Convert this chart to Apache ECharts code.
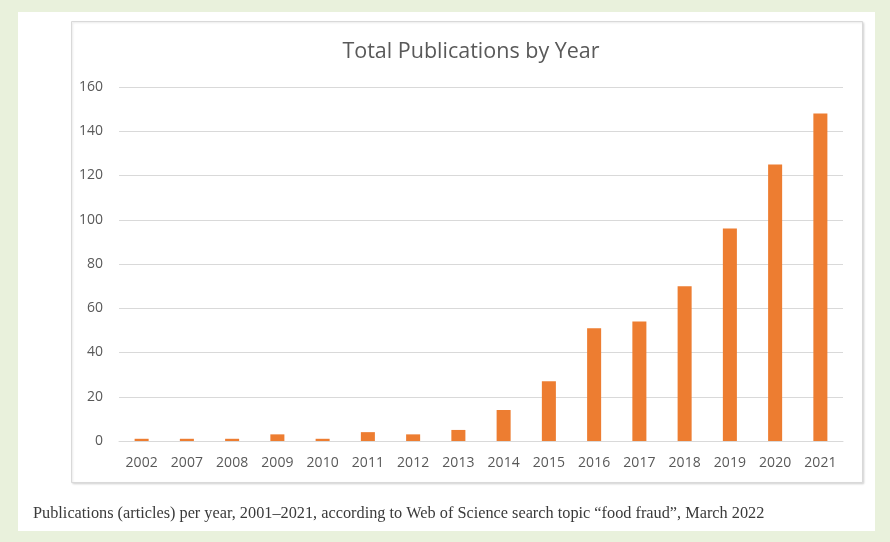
<!DOCTYPE html>
<html>
<head>
<meta charset="utf-8">
<script src="https://cdn.jsdelivr.net/npm/echarts@6/dist/echarts.min.js"></script>
<style>
html,body{margin:0;padding:0;background:#e9f1dc;}
#c{width:890px;height:542px;}
</style>
</head>
<body>
<div id="c"></div>
<script>
var years = ['2002','2007','2008','2009','2010','2011','2012','2013','2014','2015','2016','2017','2018','2019','2020','2021'];
var publications = [1,1,1,3,1,4,3,5,14,27,51,54,70,96,125,148];
var yTicks = [0,20,40,60,80,100,120,140,160];
var titleText = 'Total Publications by Year';
var captionText = 'Publications (articles) per year, 2001\u20132021, according to Web of Science search topic \u201cfood fraud\u201d, March 2022';

var chart = echarts.init(document.getElementById('c'), null, {renderer:'canvas'});
chart.setOption({
  backgroundColor: '#e9f1dc',
  animation: false,
  graphic: [
    {type:'rect', z:-10, shape:{x:18,y:12,width:857,height:519}, style:{fill:'#ffffff'}},
    {type:'rect', z:-9, shape:{x:71.5,y:21.5,width:791,height:461}, style:{fill:'#ffffff', stroke:'#d9d9d9', lineWidth:1, shadowBlur:2, shadowOffsetX:1, shadowOffsetY:1, shadowColor:'rgba(0,0,0,0.12)'}},
    {type:'text', left:33, top:506, style:{text:captionText, fill:'#3a3a3a', font:'16.3px "Liberation Serif"'}}
  ],
  title: {
    text: titleText,
    left: 466,
    textAlign: 'center',
    top: 36,
    textStyle: {color:'#595959', fontFamily:'Open Sans', fontSize:21.5, fontWeight:'normal'}
  },
  grid: {left:119, right:47, top:87, bottom:101, containLabel:false},
  xAxis: {
    type:'category',
    data: years,
    axisLine:{lineStyle:{color:'#d9d9d9'}},
    axisTick:{show:false},
    axisLabel:{color:'#595959', fontFamily:'Open Sans', fontSize:14, margin:15}
  },
  yAxis: {
    type:'value',
    min: yTicks[0], max: yTicks[yTicks.length-1], interval: 20,
    axisLine:{show:false},
    axisTick:{show:false},
    splitLine:{lineStyle:{color:'#d9d9d9'}},
    axisLabel:{color:'#595959', fontFamily:'Open Sans', fontSize:14, margin:16}
  },
  series: [{
    type:'bar',
    data: publications,
    barWidth:'31%',
    itemStyle:{color:'#ed7d31'}
  }]
});
</script>
</body>
</html>
